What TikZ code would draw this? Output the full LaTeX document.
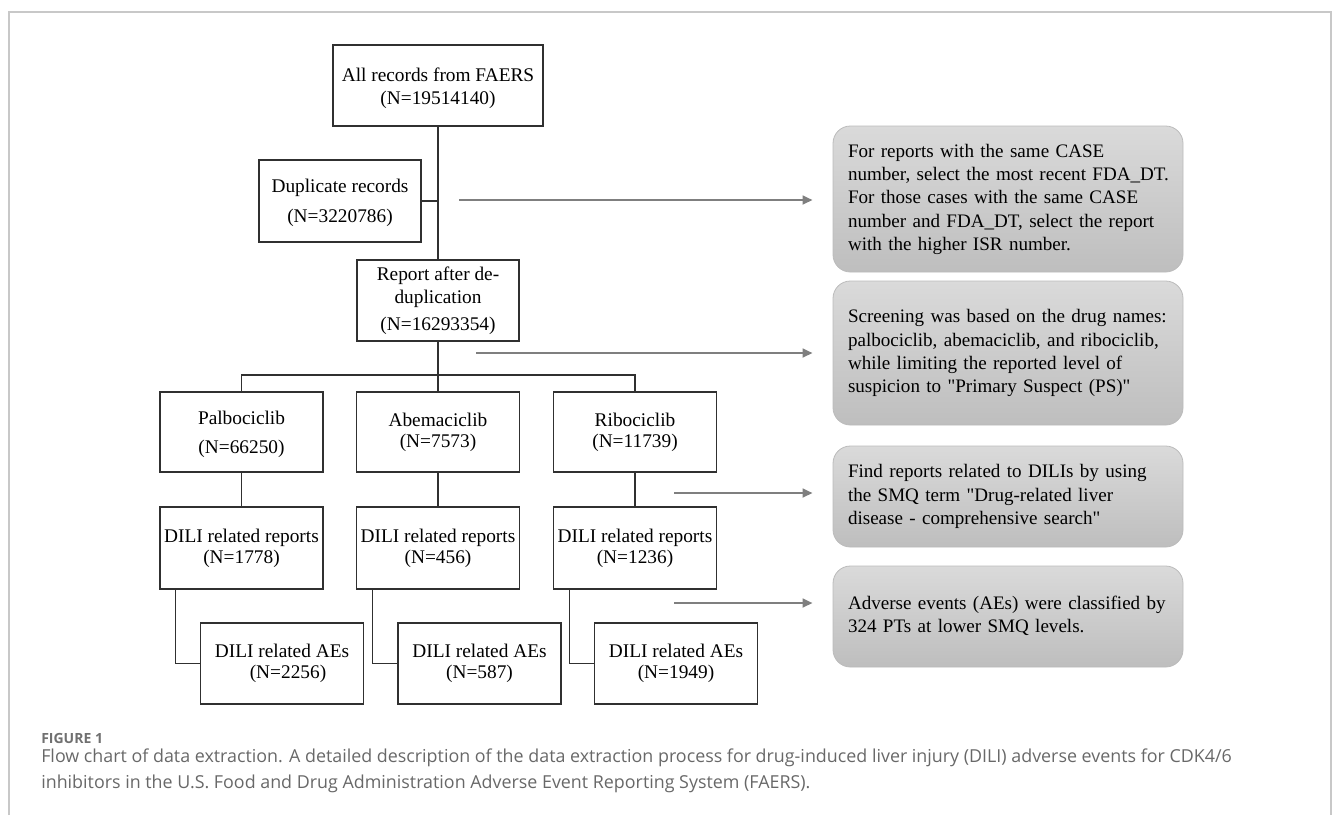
\documentclass[tikz,border=0pt]{standalone}
\usepackage{fontspec}
\setmainfont{Liberation Serif}
\newfontfamily\capfont{Open Sans}
\usetikzlibrary{arrows.meta,calc}
\definecolor{framegray}{HTML}{C8C8C8}
\definecolor{capgray}{HTML}{686868}
\definecolor{labgray}{HTML}{707070}
\definecolor{arrowgray}{HTML}{7F7F7F}
\definecolor{boxline}{HTML}{303030}
\definecolor{gtop}{HTML}{DADADA}
\definecolor{gbot}{HTML}{BEBEBE}
\definecolor{gborder}{HTML}{BBBBBB}
\begin{document}
\begin{tikzpicture}[x=0.75pt,y=-0.75pt,
  flowbox/.style={draw=boxline, line width=0.9pt, align=center, inner sep=0pt,
    minimum width=122.25pt, minimum height=60.75pt,
    font=\fontsize{14.5}{17.4}\selectfont},
  notebox/.style={draw=gborder, line width=0.6pt, rounded corners=13pt,
    top color=gtop, bottom color=gbot, text width=240pt, inner xsep=11.25pt,
    inner ysep=0pt, align=left, font=\fontsize{14.3}{17.5}\selectfont},
  link/.style={draw=boxline, line width=0.9pt},
  garrow/.style={draw=arrowgray, line width=1.9pt,
    -{Triangle[length=7.5pt,width=6.5pt]}, shorten >=15pt},
  framel/.style={draw=framegray, line width=0.8pt},
  captext/.style={anchor=base west, text=capgray, inner sep=0pt,
    font=\capfont\fontsize{13.4}{19.5}\selectfont, align=left},
]
\useasboundingbox (0,0) rectangle (1333,815);
% frame
\draw[framel] (9,815) -- (9,12) -- (1331,12) -- (1331,815);

% main flow
\node[flowbox, minimum width=157.5pt] (all) at (438,85.5) {\rule{0pt}{14pt}All records from FAERS\\(N=19514140)};
\node[flowbox, minimum width=121.5pt, minimum height=61.5pt] (dup) at (340,201) {\rule{0pt}{13pt}Duplicate records\\[5pt](N=3220786)};
\node[flowbox, minimum width=121.5pt] (rep) at (438,300.5) {Report after de-\\duplication\\[3pt](N=16293354)};

\node[flowbox, minimum height=60pt] (palb) at (241.5,432) {\rule{0pt}{14pt}Palbociclib\\[4.4pt](N=66250)};
\node[flowbox, minimum height=60pt] (abem) at (438,432) {Abemaciclib\\[-1.6pt](N=7573)};
\node[flowbox, minimum height=60pt] (ribo) at (635,432) {Ribociclib\\[-1.6pt](N=11739)};

\node[flowbox, minimum height=61.5pt] (palbr) at (241.5,548) {DILI related reports\\[-1.6pt](N=1778)};
\node[flowbox, minimum height=61.5pt] (abemr) at (438,548) {DILI related reports\\[-1.6pt](N=456)};
\node[flowbox, minimum height=61.5pt] (ribor) at (635,548) {DILI related reports\\[-1.6pt](N=1236)};

\node[flowbox] (palbae) at (282,663.5) {DILI related AEs\\[-1.8pt]\hspace*{9pt}(N=2256)};
\node[flowbox] (abemae) at (479.5,663.5) {DILI related AEs\\[-1.8pt](N=587)};
\node[flowbox] (riboae) at (676,663.5) {DILI related AEs\\[-1.8pt](N=1949)};

% connectors
\draw[link] (all) -- (rep);
\draw[link] (dup.east) -- (dup.east -| all.south);
\coordinate (br) at (438,375);
\draw[link] (rep) -- (br);
\draw[link] (palb.north) |- (br) -| (ribo.north);
\draw[link] (br) -- (abem.north);
\draw[link] (palb) -- (palbr);
\draw[link] (abem) -- (abemr);
\draw[link] (ribo) -- (ribor);
\draw[link] ([xshift=12.2pt]palbr.south west) |- (palbae.west);
\draw[link] ([xshift=12.6pt]abemr.south west) |- (abemae.west);
\draw[link] ([xshift=12.6pt]ribor.south west) |- (riboae.west);

% notes
\node[notebox, minimum height=109.5pt] (n1) at (1008,199) {%
\begin{tabular}{@{}l@{}}For reports with the same CASE\\
number, select the most recent FDA\_DT.\\
For those cases with the same CASE\\
number and FDA\_DT, select the report\\
with the higher ISR number.\end{tabular}};
\node[notebox, minimum height=108pt] (n2) at (1008,353) {%
\begin{tabular}{@{}l@{}}Screening was based on the drug names:\\
palbociclib, abemaciclib, and ribociclib,\\
while limiting the reported level of\\
suspicion to \textquotedbl Primary Suspect (PS)\textquotedbl\end{tabular}};
\node[notebox, minimum height=75.75pt] (n3) at (1008,496.5) {%
\begin{tabular}{@{}l@{}}Find reports related to DILIs by using\\
the SMQ term \textquotedbl Drug-related liver\\
disease - comprehensive search\textquotedbl\end{tabular}};
\node[notebox, minimum height=75.75pt] (n4) at (1008,616.5) {%
\begin{tabular}{@{}l@{}}Adverse events (AEs) were classified by\\
324 PTs at lower SMQ levels.\end{tabular}};

% arrows
\coordinate (s1) at (459,200);
\coordinate (s2) at (476,353);
\coordinate (s3) at (674,493);
\coordinate (s4) at (674,603);
\draw[garrow] (s1) -- (s1 -| n1.west);
\draw[garrow] (s2) -- (s2 -| n2.west);
\draw[garrow] (s3) -- (s3 -| n3.west);
\draw[garrow] (s4) -- (s4 -| n4.west);

% caption
\node[captext, text=labgray, font=\capfont\bfseries\fontsize{10.5}{12}\selectfont] (figlab) at (41,743) {FIGURE 1};
\node[captext] (cap) at (41,788) {Flow chart of data extraction. A detailed description of the data extraction process for drug-induced liver injury (DILI) adverse events for CDK4/6\\
inhibitors in the U.S. Food and Drug Administration Adverse Event Reporting System (FAERS).};
\end{tikzpicture}
\end{document}
